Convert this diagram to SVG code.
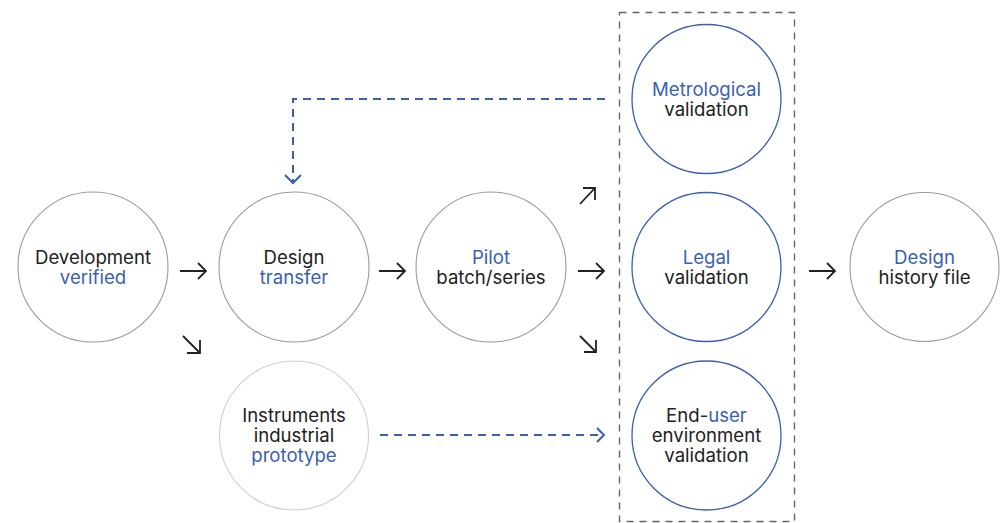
<svg xmlns="http://www.w3.org/2000/svg" width="1007" height="523" viewBox="0 0 1007 523">
<defs>
<style>
.t{font-family:Inter,"Liberation Sans",sans-serif;font-size:18.6px;fill:#222;text-anchor:middle}
.b{fill:#3a5fb3}
.cg{fill:#fff;stroke:#9a9a9a;stroke-width:1.1}
.cl{fill:#fff;stroke:#cfcfcf;stroke-width:1.1}
.cb{fill:#fff;stroke:#3a5fb3;stroke-width:1.3}
.ar{fill:none;stroke:#222;stroke-width:1.8}
.da{fill:none;stroke:#3a5fb3;stroke-width:2;stroke-dasharray:8 6}
.dh{fill:none;stroke:#3a5fb3;stroke-width:2}
.box{fill:none;stroke:#666;stroke-width:1.4;stroke-dasharray:7 6}
</style>
</defs>
<rect class="box" x="619.5" y="12.5" width="175" height="509"/>
<g id="connectors">
<path class="ar" d="M180,271 H206 M198,263 L206,271 L198,279"/>
<path class="ar" d="M379,271 H405 M397,263 L405,271 L397,279"/>
<path class="ar" d="M578,271 H604 M596,263 L604,271 L596,279"/>
<path class="ar" d="M809,271 H835 M827,263 L835,271 L827,279"/>
<path class="ar" d="M580,204 L595,188 M583,188 H595 V200"/>
<path class="ar" d="M580,336 L596,352 M584,352 H596 V340"/>
<path class="ar" d="M183,336 L200,353 M187,353 H200 V340"/>
<path class="da" d="M605,99 H293 V182"/>
<path class="dh" d="M285,175 L293,183 L301,175"/>
<path class="da" d="M380,435 H603"/>
<path class="dh" d="M597,428 L604,435 L597,442"/>
</g>
<g id="development"><circle class="cg" cx="93" cy="267" r="75"/><text class="t" x="93" y="263.5">Development</text><text class="t b" x="93" y="283.5">verified</text></g>
<g id="design-transfer"><circle class="cg" cx="294" cy="267" r="75"/><text class="t" x="294" y="263.5">Design</text><text class="t b" x="294" y="283.5">transfer</text></g>
<g id="pilot"><circle class="cg" cx="491" cy="267" r="75"/><text class="t b" x="491" y="263.5">Pilot</text><text class="t" x="491" y="283.5">batch/series</text></g>
<g id="metrological"><circle class="cb" cx="706.5" cy="99" r="74.5"/><text class="t b" x="706.5" y="95.5">Metrological</text><text class="t" x="706.5" y="115.5">validation</text></g>
<g id="legal"><circle class="cb" cx="706.5" cy="267" r="74.5"/><text class="t b" x="706.5" y="263.5">Legal</text><text class="t" x="706.5" y="283.5">validation</text></g>
<g id="end-user"><circle class="cb" cx="706.5" cy="435.5" r="74.5"/><text class="t" x="706.5" y="422">End-<tspan class="b">user</tspan></text><text class="t" x="706.5" y="442">environment</text><text class="t" x="706.5" y="462">validation</text></g>
<g id="history"><circle class="cg" cx="924.5" cy="267" r="74.5"/><text class="t b" x="924.5" y="263.5">Design</text><text class="t" x="924.5" y="283.5">history file</text></g>
<g id="instruments"><circle class="cl" cx="294" cy="435.5" r="74.5"/><text class="t" x="294" y="422">Instruments</text><text class="t" x="294" y="442">industrial</text><text class="t b" x="294" y="462">prototype</text></g>
</svg>
